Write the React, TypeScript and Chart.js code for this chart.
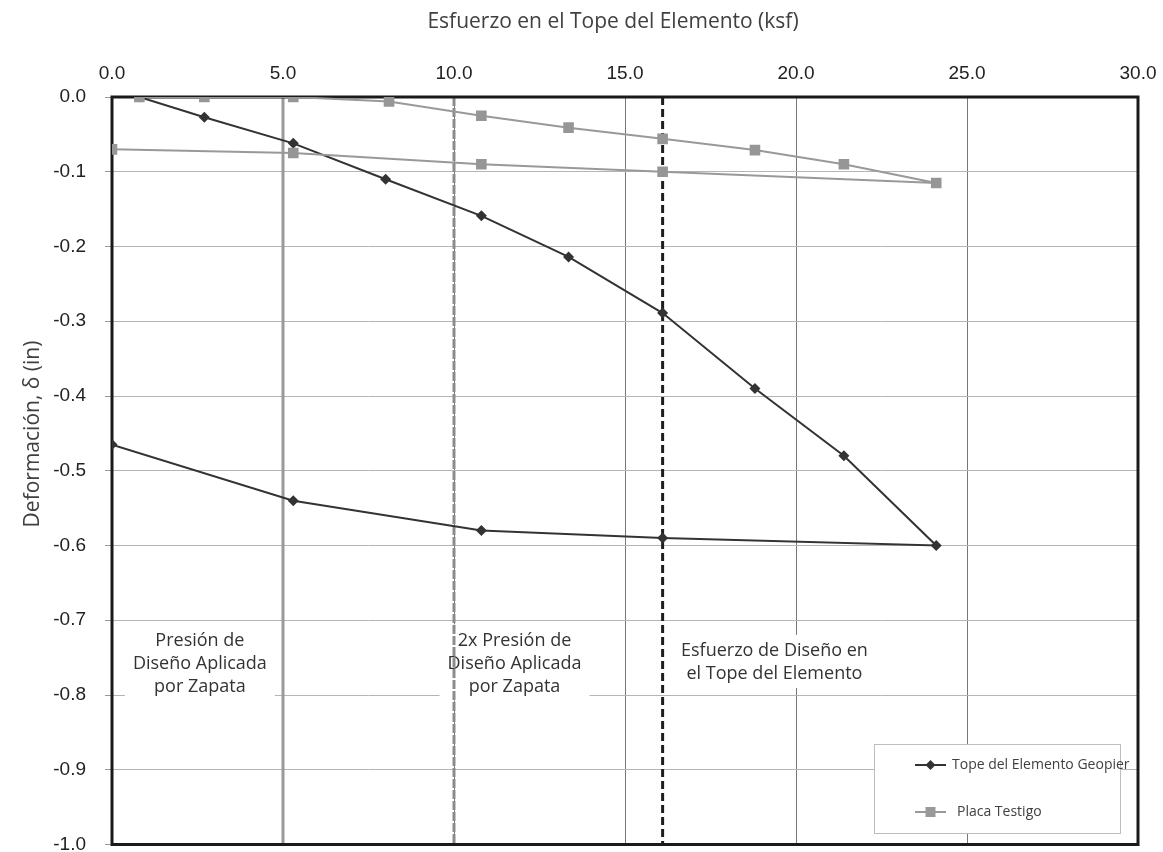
import React, { useEffect, useRef } from 'react';
import { Chart, registerables } from 'chart.js';

Chart.register(...registerables);

// ---- Data ----
const geopierX = [0.8, 2.7, 5.3, 8.0, 10.8, 13.35, 16.1, 18.8, 21.4, 24.1, 16.1, 10.8, 5.3, 0.0];
const geopierY = [0.0, -0.027, -0.062, -0.11, -0.159, -0.214, -0.289, -0.39, -0.48, -0.6, -0.59, -0.58, -0.54, -0.465];
const placaX = [0.8, 2.7, 5.3, 8.1, 10.8, 13.35, 16.1, 18.8, 21.4, 24.1, 16.1, 10.8, 5.3, 0.0];
const placaY = [0.0, 0.0, 0.0, -0.006, -0.025, -0.041, -0.056, -0.071, -0.09, -0.115, -0.1, -0.09, -0.075, -0.07];
const seriesNames = ['Tope del Elemento Geopier', 'Placa Testigo'];
const refLineValues = [5.0, 10.0, 16.1];
const refLabels = [
  ['Presión de', 'Diseño Aplicada', 'por Zapata'],
  ['2x Presión de', 'Diseño Aplicada', 'por Zapata'],
  ['Esfuerzo de Diseño en', 'el Tope del Elemento'],
];
const refLabelAnchors = [
  { x: 2.57, y: -0.727 },
  { x: 11.77, y: -0.727 },
  { x: 19.37, y: -0.741 },
];
const xTitle = 'Esfuerzo en el Tope del Elemento (ksf)';
const yTitle = 'Deformación, δ (in)';

const TEXT_FONT = '"Open Sans", "DejaVu Sans", sans-serif';
const TICK_FONT = '"Liberation Sans Narrow", "Liberation Sans", Arial, sans-serif';

const overlayPlugin = {
  id: 'overlay',
  beforeDatasetsDraw(chart: any) {
    const { ctx, chartArea: a, scales } = chart;
    const xs = scales.x;
    const ys = scales.y;
    ctx.save();
    ctx.font = `18px ${TEXT_FONT}`;
    const lh = 23;
    refLabels.forEach((lines, i) => {
      const cx = xs.getPixelForValue(refLabelAnchors[i].x);
      const cy = ys.getPixelForValue(refLabelAnchors[i].y);
      const w = Math.max(...lines.map((l) => ctx.measureText(l).width));
      ctx.fillStyle = '#ffffff';
      ctx.fillRect(cx - w / 2 - 8, cy - 16, w + 16, lh * (lines.length - 1) + 30);
    });
    const styles = [
      { color: '#9a9a9a', dash: [] as number[] },
      { color: '#8c8c8c', dash: [9, 2] },
      { color: '#1e1e1e', dash: [8, 4] },
    ];
    refLineValues.forEach((v, i) => {
      const px = xs.getPixelForValue(v);
      ctx.beginPath();
      ctx.setLineDash(styles[i].dash);
      ctx.strokeStyle = styles[i].color;
      ctx.lineWidth = 3;
      ctx.moveTo(px, a.top);
      ctx.lineTo(px, a.bottom);
      ctx.stroke();
    });
    ctx.setLineDash([]);
    ctx.fillStyle = '#333333';
    ctx.textAlign = 'center';
    ctx.textBaseline = 'middle';
    refLabels.forEach((lines, i) => {
      const cx = xs.getPixelForValue(refLabelAnchors[i].x);
      const cy = ys.getPixelForValue(refLabelAnchors[i].y);
      lines.forEach((l, j) => ctx.fillText(l, cx, cy + j * lh));
    });
    ctx.lineWidth = 3;
    ctx.strokeStyle = '#1a1a1a';
    ctx.strokeRect(a.left, a.top, a.right - a.left, a.bottom - a.top);
    ctx.restore();
  },
  afterDraw(chart: any) {
    const { ctx } = chart;
    ctx.save();
    ctx.fillStyle = '#404040';
    ctx.font = `21px ${TEXT_FONT}`;
    ctx.textAlign = 'center';
    ctx.textBaseline = 'middle';
    ctx.fillText(xTitle, 613, 22);
    ctx.translate(33, 434);
    ctx.rotate(-Math.PI / 2);
    ctx.fillText(yTitle, 0, 0);
    ctx.setTransform(1, 0, 0, 1, 0, 0);
    // legend
    const bx = 874.5, by = 744.5, bw = 246, bh = 89;
    ctx.fillStyle = '#ffffff';
    ctx.fillRect(bx, by, bw, bh);
    ctx.strokeStyle = '#bdbdbd';
    ctx.lineWidth = 1;
    ctx.strokeRect(bx, by, bw, bh);
    const items = [
      { y: 765, color: '#333333', style: 'diamond', textX: 952 },
      { y: 812, color: '#999999', style: 'square', textX: 957 },
    ];
    items.forEach((it, i) => {
      ctx.strokeStyle = it.color;
      ctx.lineWidth = 2;
      ctx.beginPath();
      ctx.moveTo(915, it.y);
      ctx.lineTo(946, it.y);
      ctx.stroke();
      ctx.fillStyle = it.color;
      ctx.beginPath();
      if (it.style === 'diamond') {
        ctx.moveTo(930.5, it.y - 5);
        ctx.lineTo(935.5, it.y);
        ctx.lineTo(930.5, it.y + 5);
        ctx.lineTo(925.5, it.y);
        ctx.closePath();
        ctx.fill();
      } else {
        ctx.fillRect(925.5, it.y - 5, 10, 10);
      }
      ctx.fillStyle = '#404040';
      ctx.font = `14px ${TEXT_FONT}`;
      ctx.textAlign = 'left';
      ctx.textBaseline = 'middle';
      ctx.fillText(seriesNames[i], it.textX, it.y);
    });
    ctx.restore();
  },
};

export default function App() {
  const ref = useRef<HTMLCanvasElement>(null);
  useEffect(() => {
    document.body.style.margin = '0';
    const chart = new Chart(ref.current as HTMLCanvasElement, {
      type: 'scatter',
      data: {
        datasets: [
          {
            label: seriesNames[1],
            data: placaX.map((x, i) => ({ x, y: placaY[i] })),
            showLine: true,
            borderColor: '#999999',
            backgroundColor: '#999999',
            borderWidth: 2,
            pointStyle: 'rect',
            pointRadius: 7.5,
            pointBorderWidth: 0,
            pointBackgroundColor: '#969696',
            tension: 0,
          },
          {
            label: seriesNames[0],
            data: geopierX.map((x, i) => ({ x, y: geopierY[i] })),
            showLine: true,
            borderColor: '#333333',
            backgroundColor: '#333333',
            borderWidth: 2,
            pointStyle: 'rectRot',
            pointRadius: 5.5,
            pointBorderWidth: 0,
            pointBackgroundColor: '#333333',
            tension: 0,
          },
        ],
      },
      options: {
        responsive: false,
        devicePixelRatio: 1,
        animation: false,
        layout: { padding: { left: 0, top: 0, right: 25, bottom: 7 } },
        plugins: { legend: { display: false }, tooltip: { enabled: false } },
        scales: {
          x: {
            type: 'linear',
            position: 'top',
            min: 0,
            max: 30,
            border: { display: false },
            grid: { color: '#777777', lineWidth: 1, drawTicks: false },
            ticks: {
              stepSize: 5,
              padding: 12,
              color: '#222222',
              font: { family: TICK_FONT, size: 19 },
              callback: (v: any) => Number(v).toFixed(1),
            },
            afterFit: (s: any) => {
              s.height = 97;
              s.paddingLeft = 0;
              s.paddingRight = 0;
            },
          },
          y: {
            type: 'linear',
            min: -1,
            max: 0,
            border: { display: false },
            grid: { color: '#b5b5b5', lineWidth: 1, tickLength: 7, tickColor: '#999999' },
            ticks: {
              stepSize: 0.1,
              padding: 19,
              color: '#222222',
              font: { family: TICK_FONT, size: 19 },
              callback: (v: any) => Number(v).toFixed(1),
            },
            afterFit: (s: any) => {
              s.width = 112;
              s.paddingTop = 0;
              s.paddingBottom = 0;
            },
          },
        },
      },
      plugins: [overlayPlugin],
    });
    return () => chart.destroy();
  }, []);
  return (
    <div style={{ width: 1163, height: 852 }}>
      <canvas ref={ref} width={1163} height={852} style={{ display: 'block' }} />
    </div>
  );
}
